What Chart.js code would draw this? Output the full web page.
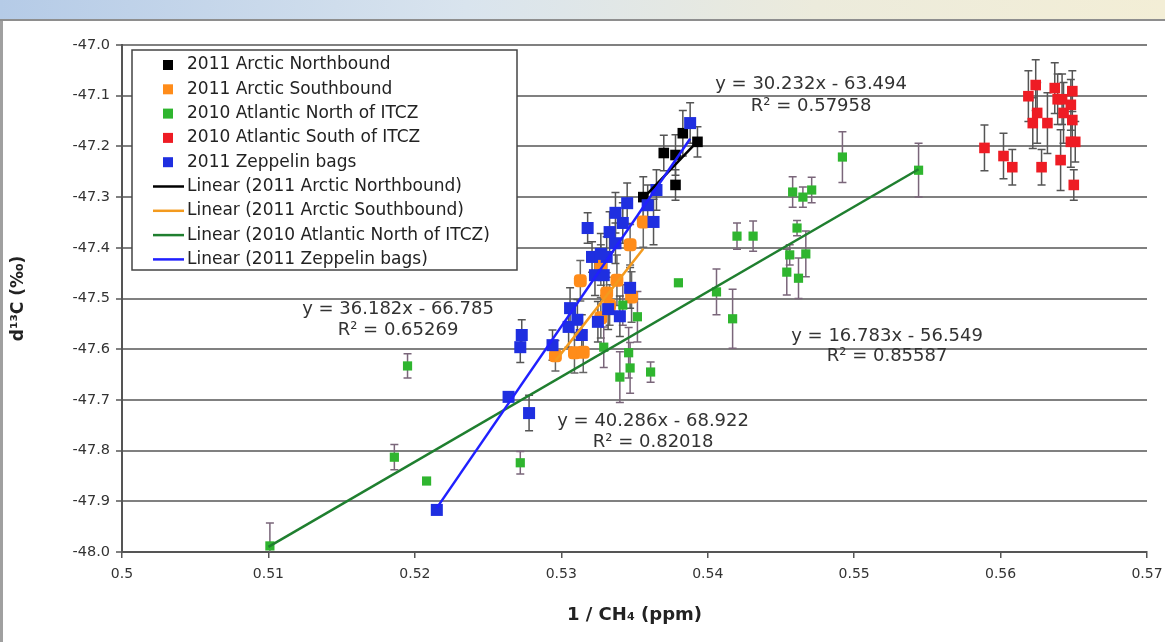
<!DOCTYPE html>
<html>
<head>
<meta charset="utf-8">
<script src="https://cdn.jsdelivr.net/npm/chart.js@4.4.0/dist/chart.umd.min.js"></script>
<style>
  html, body { margin: 0; padding: 0; background: #fff; }
  body { width: 1165px; height: 642px; position: relative; overflow: hidden; }
  .topbar { position: absolute; left: 0; top: 0; width: 1165px; height: 19px;
    background: linear-gradient(to right, #b5cbe7 0%, #d9e4ee 40%, #ecebdc 70%, #f3eed6 100%);
    border-bottom: 2px solid #8e8e8e; }
  .leftbar { position: absolute; left: 0; top: 21px; width: 3px; height: 621px; background: #a0a0a0; }
  #wrap { position: absolute; left: 0; top: 0; width: 1165px; height: 642px; }
</style>
</head>
<body>
<div class="topbar"></div>
<div class="leftbar"></div>
<div id="wrap"><canvas id="chart" width="1165" height="642"></canvas></div>
<script>
// 數據
const seriesNames = ['2011 Arctic Northbound', '2011 Arctic Southbound', '2010 Atlantic North of ITCZ',
                     '2010 Atlantic South of ITCZ', '2011 Zeppelin bags'];

const northX = [0.5356, 0.5370, 0.5378, 0.5378, 0.5383, 0.5393];
const northY = [-47.300, -47.213, -47.217, -47.276, -47.174, -47.191];
const northErr = [0.04, 0.035, 0.04, 0.03, 0.045, 0.03];

const southX = [0.5296, 0.5309, 0.5315, 0.5313, 0.5327, 0.5338, 0.5331, 0.5348, 0.5333, 0.5327, 0.5347, 0.5356];
const southY = [-47.613, -47.607, -47.606, -47.465, -47.434, -47.464, -47.489, -47.497, -47.513, -47.538, -47.394, -47.349];
const southErr = [0.03, 0.04, 0.04, 0.04, 0.04, 0.05, 0.04, 0.05, 0.04, 0.04, 0.04, 0.05];

const atlNX = [0.5101, 0.5186, 0.5195, 0.5208, 0.5272, 0.5329, 0.5340, 0.5342, 0.5346, 0.5347, 0.5352, 0.5361,
               0.5380, 0.5406, 0.5417, 0.5420, 0.5431, 0.5454, 0.5456, 0.5461, 0.5462, 0.5467, 0.5458, 0.5465,
               0.5471, 0.5492, 0.5544];
const atlNY = [-47.988, -47.813, -47.633, -47.860, -47.824, -47.596, -47.655, -47.513, -47.607, -47.637, -47.536, -47.645,
               -47.469, -47.487, -47.540, -47.377, -47.377, -47.448, -47.414, -47.361, -47.460, -47.412, -47.290, -47.300,
               -47.286, -47.221, -47.247];
const atlNErr = [0.045, 0.025, 0.024, 0, 0.022, 0.04, 0.05, 0.04, 0.05, 0.05, 0.05, 0.02,
                 0, 0.045, 0.058, 0.026, 0.03, 0.045, 0.02, 0.015, 0.04, 0.045, 0.03, 0.02,
                 0.025, 0.05, 0.053];

const atlSX = [0.5589, 0.5602, 0.5608, 0.5619, 0.5624, 0.5625, 0.5622, 0.5632, 0.5628, 0.5637, 0.5639, 0.5642,
               0.5643, 0.5649, 0.5648, 0.5649, 0.5648, 0.5651, 0.5641, 0.5650];
const atlSY = [-47.203, -47.219, -47.241, -47.101, -47.079, -47.134, -47.154, -47.154, -47.241, -47.085, -47.107, -47.107,
               -47.134, -47.091, -47.118, -47.148, -47.191, -47.191, -47.227, -47.276];
const atlSErr = [0.045, 0.045, 0.035, 0.05, 0.05, 0.06, 0.05, 0.06, 0.035, 0.05, 0.05, 0.05,
                 0.06, 0.04, 0.05, 0.05, 0.05, 0.04, 0.06, 0.03];

const zepX = [0.5215, 0.5264, 0.5278, 0.5272, 0.5273, 0.5294, 0.5305, 0.5306, 0.5311, 0.5314, 0.5325, 0.5332,
              0.5340, 0.5347, 0.5323, 0.5329, 0.5321, 0.5331, 0.5327, 0.5337, 0.5318, 0.5333, 0.5342, 0.5337,
              0.5345, 0.5359, 0.5363, 0.5365, 0.5388];
const zepY = [-47.917, -47.694, -47.726, -47.596, -47.572, -47.592, -47.556, -47.519, -47.542, -47.572, -47.546, -47.521,
              -47.535, -47.479, -47.454, -47.454, -47.418, -47.418, -47.412, -47.391, -47.361, -47.369, -47.351, -47.331,
              -47.312, -47.316, -47.349, -47.286, -47.154];
const zepErr = [0, 0, 0.035, 0.03, 0.03, 0.03, 0.04, 0.04, 0.04, 0.04, 0.04, 0.04,
                0.04, 0.04, 0.04, 0.04, 0.03, 0.04, 0.04, 0.04, 0.03, 0.04, 0.04, 0.04,
                0.04, 0.04, 0.045, 0.04, 0.04];

// 趨勢線端點
const trendNames = ['Linear (2011 Arctic Northbound)', 'Linear (2011 Arctic Southbound)',
                    'Linear (2010 Atlantic North of ITCZ)', 'Linear (2011 Zeppelin bags)'];
const northFitX = [0.5356, 0.5393], northFitY = [-47.302, -47.190];
const southFitX = [0.5296, 0.5356], southFitY = [-47.623, -47.402];
const atlNFitX = [0.5100, 0.5544], atlNFitY = [-47.990, -47.245];
const zepFitX = [0.5215, 0.5388], zepFitY = [-47.913, -47.185];

// 方程標註
const eqTexts = ['y = 30.232x - 63.494', 'R² = 0.57958',
                 'y = 36.182x - 66.785', 'R² = 0.65269',
                 'y = 16.783x - 56.549', 'R² = 0.85587',
                 'y = 40.286x - 68.922', 'R² = 0.82018'];
const eqX = [0.54706, 0.54706, 0.51885, 0.51885, 0.55225, 0.55225, 0.53627, 0.53627];
const eqY = [-47.077, -47.120, -47.521, -47.562, -47.574, -47.615, -47.742, -47.783];

const xTicks = [0.5, 0.51, 0.52, 0.53, 0.54, 0.55, 0.56, 0.57];
const yTicks = [-47.0, -47.1, -47.2, -47.3, -47.4, -47.5, -47.6, -47.7, -47.8, -47.9, -48.0];

const FONT = "'DejaVu Sans', Verdana, sans-serif";

function pts(xs, ys) {
    return xs.map((x, i) => ({ x: x, y: ys[i] }));
}

function scatterSet(label, xs, ys, errs, color, errColor, style, radius, order) {
    return {
        type: 'scatter', label: label, data: pts(xs, ys), errors: errs, errorColor: errColor,
        backgroundColor: color, borderColor: color, borderWidth: 0,
        pointStyle: style, pointRadius: radius, pointHoverRadius: radius, order: order
    };
}

function fitSet(label, xs, ys, color, order) {
    return {
        type: 'line', label: label, data: pts(xs, ys), isFit: true,
        borderColor: color, backgroundColor: color, borderWidth: 2.5,
        pointRadius: 0, showLine: true, fill: false, tension: 0, order: order
    };
}

// 誤差棒
const errorBars = {
    id: 'errorBars',
    beforeDatasetsDraw(chart) {
        const ctx = chart.ctx, xs = chart.scales.x, ys = chart.scales.y, a = chart.chartArea;
        ctx.save();
        ctx.beginPath();
        ctx.rect(a.left, a.top, a.right - a.left, a.bottom - a.top);
        ctx.clip();
        chart.data.datasets.forEach(ds => {
            if (!ds.errors) return;
            ctx.strokeStyle = ds.errorColor;
            ctx.lineWidth = 1.5;
            ds.data.forEach((p, i) => {
                const e = ds.errors[i];
                if (!e) return;
                const px = xs.getPixelForValue(p.x);
                const t = ys.getPixelForValue(p.y + e);
                const b = ys.getPixelForValue(p.y - e);
                ctx.beginPath();
                ctx.moveTo(px, t); ctx.lineTo(px, b);
                ctx.moveTo(px - 4, t); ctx.lineTo(px + 4, t);
                ctx.moveTo(px - 4, b); ctx.lineTo(px + 4, b);
                ctx.stroke();
            });
        });
        ctx.restore();
    }
};

// 方程文字
const equations = {
    id: 'equations',
    afterDatasetsDraw(chart) {
        const ctx = chart.ctx, xs = chart.scales.x, ys = chart.scales.y;
        ctx.save();
        ctx.font = '18px ' + FONT;
        ctx.fillStyle = '#333';
        ctx.textAlign = 'center';
        ctx.textBaseline = 'middle';
        eqTexts.forEach((t, i) => {
            ctx.fillText(t, xs.getPixelForValue(eqX[i]), ys.getPixelForValue(eqY[i]));
        });
        ctx.restore();
    }
};

// 圖例
const boxLegend = {
    id: 'boxLegend',
    afterDraw(chart) {
        const ctx = chart.ctx;
        const left = 132, top = 50, w = 385, h = 220, rowH = 24.3;
        ctx.save();
        ctx.fillStyle = '#fff';
        ctx.fillRect(left, top, w, h);
        ctx.strokeStyle = '#444';
        ctx.lineWidth = 1.5;
        ctx.strokeRect(left, top, w, h);
        ctx.font = '17px ' + FONT;
        ctx.textBaseline = 'middle';
        chart.data.datasets.forEach((ds, i) => {
            const y = top + 15 + i * rowH;
            if (ds.isFit) {
                ctx.strokeStyle = ds.borderColor;
                ctx.lineWidth = 2.5;
                ctx.beginPath();
                ctx.moveTo(153, y); ctx.lineTo(184, y);
                ctx.stroke();
            } else {
                ctx.fillStyle = ds.backgroundColor;
                ctx.fillRect(163, y - 5, 10, 10);
            }
            ctx.fillStyle = '#222';
            ctx.fillText(ds.label, 187, y);
        });
        ctx.restore();
    }
};

const datasets = [
    scatterSet(seriesNames[0], northX, northY, northErr, '#000000', '#555555', 'rect', 7.5, 9),
    scatterSet(seriesNames[1], southX, southY, southErr, '#ff8c1a', '#666666', 'rectRounded', 7.5, 8),
    scatterSet(seriesNames[2], atlNX, atlNY, atlNErr, '#2fb52f', '#7a667a', 'rect', 6.5, 7),
    scatterSet(seriesNames[3], atlSX, atlSY, atlSErr, '#ee1c24', '#555555', 'rect', 7.5, 6),
    scatterSet(seriesNames[4], zepX, zepY, zepErr, '#1f2fe0', '#555555', 'rect', 8.5, 5),
    fitSet(trendNames[0], northFitX, northFitY, '#000000', 4),
    fitSet(trendNames[1], southFitX, southFitY, '#f39a1e', 3),
    fitSet(trendNames[2], atlNFitX, atlNFitY, '#1f7f2f', 2),
    fitSet(trendNames[3], zepFitX, zepFitY, '#2020ff', 1)
];

new Chart(document.getElementById('chart').getContext('2d'), {
    type: 'scatter',
    data: { datasets: datasets },
    options: {
        responsive: false,
        devicePixelRatio: 1,
        animation: false,
        layout: { padding: { left: 6, top: 45, right: 0, bottom: 0 } },
        plugins: { legend: { display: false }, tooltip: { enabled: false } },
        scales: {
            x: {
                type: 'linear', min: 0.5, max: 0.57,
                afterFit(scale) { scale.height = 90; scale.paddingRight = 18; },
                afterBuildTicks(scale) { scale.ticks = xTicks.map(v => ({ value: v })); },
                ticks: {
                    color: '#333', font: { family: FONT, size: 14 }, padding: 8,
                    callback: v => String(Number(v.toFixed(2)))
                },
                grid: { drawOnChartArea: false, drawTicks: true, tickLength: 6, color: '#555', lineWidth: 1.5 },
                border: { color: '#555', width: 2 },
                title: { display: true, text: '1 / CH₄ (ppm)', color: '#222',
                         font: { family: FONT, size: 18, weight: 'bold' }, padding: { top: 4, bottom: 16 } }
            },
            y: {
                type: 'linear', min: -48, max: -47,
                afterFit(scale) { scale.width = 116; },
                afterBuildTicks(scale) { scale.ticks = yTicks.map(v => ({ value: v })); },
                ticks: {
                    color: '#333', font: { family: FONT, size: 14.5 }, padding: 6,
                    callback: v => v.toFixed(1)
                },
                grid: { color: '#808080', lineWidth: 2, tickLength: 6, drawTicks: true },
                border: { color: '#555', width: 2 },
                title: { display: true, text: 'd¹³C (‰)', color: '#222',
                         font: { family: FONT, size: 17, weight: 'bold' }, padding: { top: 2, bottom: 0 } }
            }
        }
    },
    plugins: [errorBars, equations, boxLegend]
});
</script>
</body>
</html>
